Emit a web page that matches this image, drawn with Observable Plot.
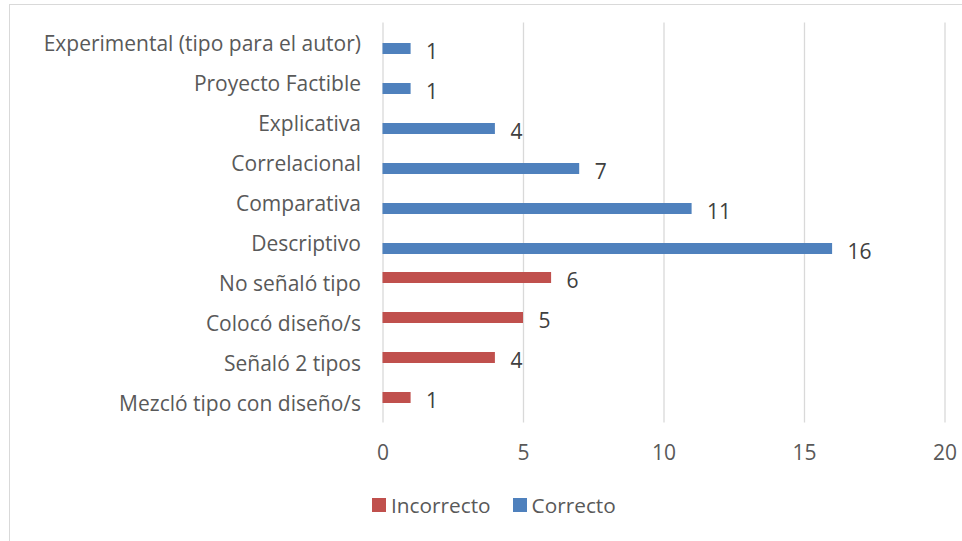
<!DOCTYPE html>
<html><head><meta charset="utf-8">
<script src="https://cdn.jsdelivr.net/npm/d3@7"></script>
<script src="https://cdn.jsdelivr.net/npm/@observablehq/plot@0.6"></script>
<style>
body{margin:0;background:#fff;overflow:hidden;}
#wrap{position:relative;width:962px;height:541px;overflow:hidden;font-family:"Open Sans",sans-serif;color:#595959;}
#border{position:absolute;left:9px;top:4px;width:1000px;height:600px;border:1px solid #d9d9d9;box-sizing:border-box;}
#chart{position:absolute;left:0;top:0;}
#legend{position:absolute;left:372px;top:490px;display:flex;align-items:center;font-size:20.8px;line-height:30px;}
.item{display:flex;align-items:center;margin-right:22px;}
.sw{width:14px;height:14px;margin-right:5px;}
</style></head>
<body><div id="wrap"><div id="border"></div><div id="chart"></div><div id="legend"></div></div>
<script>
const categories = ["Experimental (tipo para el autor)", "Proyecto Factible", "Explicativa", "Correlacional", "Comparativa", "Descriptivo", "No señaló tipo", "Colocó diseño/s", "Señaló 2 tipos", "Mezcló tipo con diseño/s"];
const correcto =   [1, 1, 4, 7, 11, 16, null, null, null, null];
const incorrecto = [null, null, null, null, null, null, 6, 5, 4, 1];
const seriesNames = ["Incorrecto", "Correcto"];
const seriesColors = ["#c0504d", "#4f81bd"];
const xTicks = [0, 5, 10, 15, 20];

const rowsC = categories.map((c, i) => ({category: c, series: "Correcto", value: correcto[i]})).filter(d => d.value != null);
const rowsI = categories.map((c, i) => ({category: c, series: "Incorrecto", value: incorrecto[i]})).filter(d => d.value != null);

const chart = Plot.plot({
  width: 962,
  height: 480,
  marginLeft: 382.5,
  marginRight: 17.5,
  marginTop: 22.5,
  marginBottom: 57.5,
  style: {fontFamily: "'Open Sans', sans-serif", fontSize: "21px", color: "#595959", background: "transparent"},
  x: {domain: [0, 20], ticks: xTicks},
  y: {type: "band", domain: categories, padding: 0},
  color: {domain: seriesNames, range: seriesColors},
  marks: [
    Plot.gridX(xTicks, {stroke: "#d9d9d9", strokeOpacity: 1, strokeWidth: 1.3}),
    Plot.barX(rowsC, {y: "category", x: "value", fill: "series", insetTop: 20, insetBottom: 9}),
    Plot.barX(rowsI, {y: "category", x: "value", fill: "series", insetTop: 9, insetBottom: 20}),
    Plot.text(rowsC, {y: "category", x: "value", text: d => String(d.value), dx: 15, dy: 9, textAnchor: "start", fill: "#404040"}),
    Plot.text(rowsI, {y: "category", x: "value", text: d => String(d.value), dx: 15, dy: -2, textAnchor: "start", fill: "#404040"}),
    Plot.axisY({tickSize: 0, tickPadding: 22, label: null, dy: 1}),
    Plot.axisX({ticks: xTicks, tickSize: 0, tickPadding: 22, label: null})
  ]
});
document.getElementById("chart").appendChild(chart);

const legend = document.getElementById("legend");
seriesNames.forEach((s, i) => {
  const it = document.createElement("div");
  it.className = "item";
  const sw = document.createElement("div");
  sw.className = "sw";
  sw.style.background = seriesColors[i];
  const t = document.createElement("span");
  t.textContent = s;
  it.appendChild(sw); it.appendChild(t);
  legend.appendChild(it);
});
</script></body></html>
